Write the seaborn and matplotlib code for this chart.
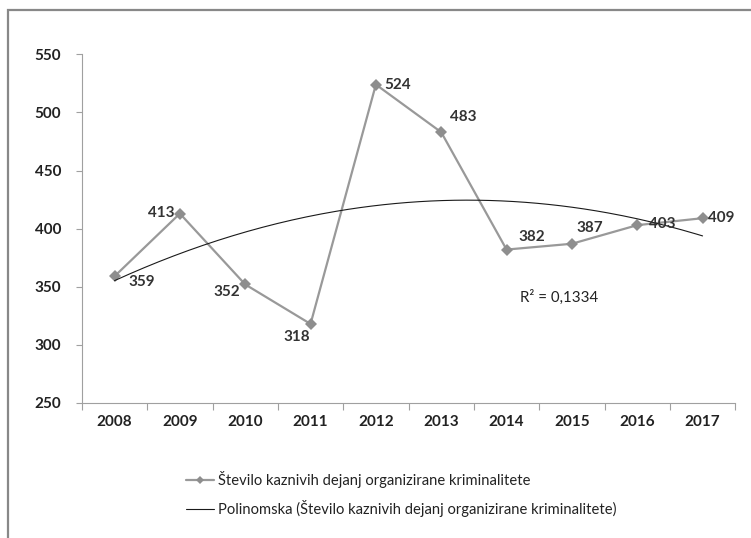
import numpy as np
import pandas as pd
import matplotlib.pyplot as plt
import matplotlib.patches as patches
from matplotlib.lines import Line2D
import seaborn as sns

# data
years = ['2008', '2009', '2010', '2011', '2012', '2013', '2014', '2015', '2016', '2017']
counts = [359, 413, 352, 318, 524, 483, 382, 387, 403, 409]
# label offsets in pixels (dx, dy) so labels sit like the original
label_offsets = [(27, -6), (-19, 1), (-18, -8), (-14, -13), (22, 0),
                 (22, 15), (25, 13), (18, 16), (25, 1), (19, 0)]
series_name = 'Število kaznivih dejanj organizirane kriminalitete'
trend_name = 'Polinomska (Število kaznivih dejanj organizirane kriminalitete)'

df = pd.DataFrame({'idx': np.arange(len(years)), 'count': counts})

sns.set_style('white')
plt.rcParams['font.family'] = ['Lato', 'DejaVu Sans']

fig = plt.figure(figsize=(7.51, 5.38), dpi=100)
ax = fig.add_axes([0.109, 0.251, 0.870, 0.648])

sns.lineplot(data=df, x='idx', y='count', ax=ax, color='#999999', linewidth=1.6,
             marker='D', markersize=6, markeredgewidth=0, markerfacecolor='#8e8e8e')

# second order polynomial trendline
coef = np.polyfit(df['idx'] + 1, df['count'], 2)
xs = np.linspace(0, len(years) - 1, 200)
ax.plot(xs, np.polyval(coef, xs + 1), color='#1a1a1a', linewidth=0.8)
fitted = np.polyval(coef, df['idx'] + 1)
r2 = 1 - ((df['count'] - fitted) ** 2).sum() / ((df['count'] - df['count'].mean()) ** 2).sum()
ax.text(6.81, 341, 'R² = ' + f'{r2:.4f}'.replace('.', ','), ha='center', va='center',
        fontsize=10.8, color='#222222')

for i, (v, off) in enumerate(zip(counts, label_offsets)):
    ax.annotate(str(v), (i, v), xytext=off, textcoords='offset pixels',
                ha='center', va='center', fontsize=11, fontweight='bold', color='#333333')

ax.set_xlim(-0.5, len(years) - 0.5)
ax.set_ylim(250, 550)
ax.set_yticks(range(250, 551, 50))
ax.set_xticks(np.arange(-0.5, len(years), 1))
ax.set_xticklabels([])
ax.set_xticks(np.arange(len(years)), minor=True)
ax.set_xticklabels(years, minor=True)
ax.tick_params(axis='x', which='major', length=5, width=0.8, color='#a0a0a0', direction='out', bottom=True)
ax.tick_params(axis='x', which='minor', length=0, pad=9)
ax.tick_params(axis='y', length=4, width=0.8, color='#a0a0a0', direction='out', left=True, pad=11)
for lbl in ax.get_xticklabels(minor=True) + ax.get_yticklabels():
    lbl.set_fontweight('bold')
    lbl.set_fontsize(11)
    lbl.set_color('#222222')

sns.despine(ax=ax)
for s in ['left', 'bottom']:
    ax.spines[s].set_color('#a0a0a0')
    ax.spines[s].set_linewidth(0.8)
ax.set_xlabel('')
ax.set_ylabel('')

handles = [Line2D([], [], color='#999999', linewidth=1.6, marker='D', markersize=4,
                  markeredgewidth=0, markerfacecolor='#8e8e8e'),
           Line2D([], [], color='#1a1a1a', linewidth=0.8)]
leg = fig.legend(handles, [series_name, trend_name], loc='upper left',
                 bbox_to_anchor=(186 / 751, 1 - 471 / 538), frameon=False, fontsize=10.6,
                 handlelength=1.9, handletextpad=0.3, labelspacing=0.8,
                 borderaxespad=0, borderpad=0)
for t in leg.get_texts():
    t.set_color('#222222')

# outer chart frame (cropped on right and bottom)
fig.patches.append(patches.Rectangle((7.5 / 751, -0.1), 1.2, 1 - 10 / 538 + 0.1,
                                     transform=fig.transFigure, fill=False,
                                     edgecolor='#888888', linewidth=1.6))

fig.savefig('out.png', dpi=100)
